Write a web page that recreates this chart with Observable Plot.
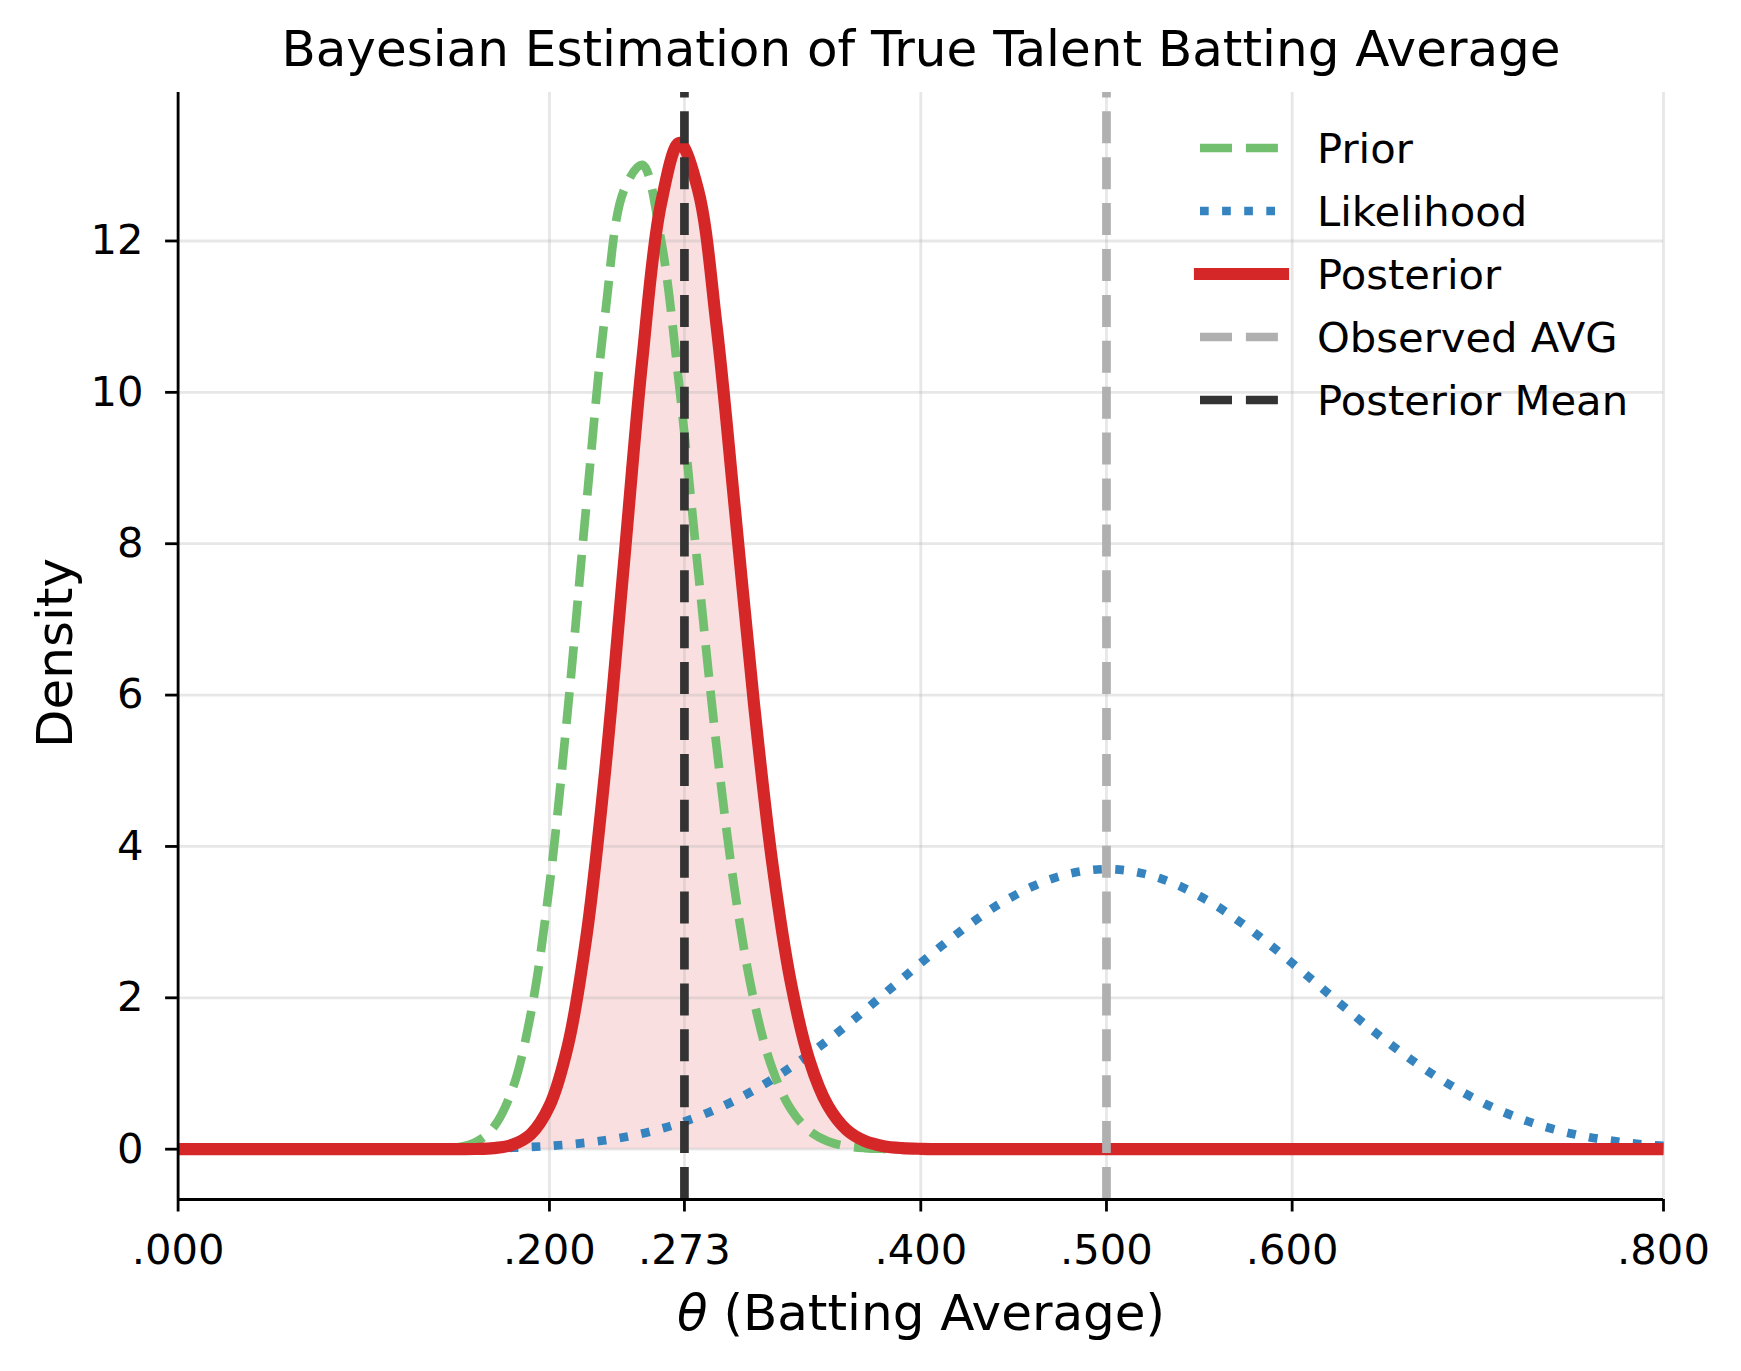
<!DOCTYPE html>
<html>
<head>
<meta charset="utf-8">
<script src="https://cdn.jsdelivr.net/npm/d3@7"></script>
<script src="https://cdn.jsdelivr.net/npm/@observablehq/plot@0.6"></script>
<style>
  html, body { margin: 0; padding: 0; background: white; }
  #wrap { position: relative; width: 1741px; height: 1371px; background: white; font-family: "DejaVu Sans", sans-serif; color: black; overflow: hidden; }
  #title { position: absolute; left: 921px; top: 24.4px; transform: translateX(-50%); font-size: 50px; line-height: 50px; white-space: nowrap; }
  #chart { position: absolute; left: 0; top: 92px; }
  .leg-text { position: absolute; font-size: 41.7px; line-height: 41.7px; white-space: nowrap; }
</style>
</head>
<body>
<div id="wrap">
  <div id="title">Bayesian Estimation of True Talent Batting Average</div>
  <div id="chart"></div>
  <div id="legend"></div>
</div>
<script>
// ---- Data ----
const theta = [
  0.00,0.01,0.02,0.03,0.04,0.05,0.06,0.07,0.08,0.09,
  0.10,0.11,0.12,0.13,0.14,0.15,0.16,0.17,0.18,0.19,
  0.20,0.21,0.22,0.23,0.24,0.25,0.26,0.27,0.28,0.29,
  0.30,0.31,0.32,0.33,0.34,0.35,0.36,0.37,0.38,0.39,
  0.40,0.41,0.42,0.43,0.44,0.45,0.46,0.47,0.48,0.49,
  0.50,0.51,0.52,0.53,0.54,0.55,0.56,0.57,0.58,0.59,
  0.60,0.61,0.62,0.63,0.64,0.65,0.66,0.67,0.68,0.69,
  0.70,0.71,0.72,0.73,0.74,0.75,0.76,0.77,0.78,0.79,
  0.80
];
const prior = [
  0,0,0,0,0,0,0,0,0,0,
  0,0,0,0.0006,0.0043,0.022,0.089,0.292,0.790,1.795,
  3.482,5.837,8.546,11.033,12.663,13.006,12.027,10.066,7.660,5.321,
  3.385,1.978,1.065,0.529,0.243,0.103,0.041,0.015,0.005,0.0015,
  0.0004,0,0,0,0,0,0,0,0,0,
  0,0,0,0,0,0,0,0,0,0,
  0,0,0,0,0,0,0,0,0,0,
  0,0,0,0,0,0,0,0,0,0,
  0
];
const likelihood = [
  0,0,0,0,0,0,0,0,0,0,
  0.0001,0.0003,0.0007,0.0013,0.0025,0.0044,0.0075,0.0121,0.0190,0.0289,
  0.0427,0.0613,0.0859,0.118,0.158,0.208,0.270,0.343,0.430,0.531,
  0.647,0.778,0.923,1.083,1.256,1.441,1.635,1.838,2.044,2.253,
  2.460,2.662,2.855,3.036,3.204,3.346,3.470,3.569,3.641,3.685,
  3.700,3.685,3.641,3.569,3.470,3.346,3.204,3.036,2.855,2.662,
  2.460,2.253,2.044,1.838,1.635,1.441,1.256,1.083,0.923,0.778,
  0.647,0.531,0.430,0.343,0.270,0.208,0.158,0.118,0.0859,0.0613,
  0.0427
];
const posterior = [
  0,0,0,0,0,0,0,0,0,0,
  0,0,0,0,0,0.0004,0.0026,0.0136,0.058,0.200,
  0.572,1.376,2.825,4.999,7.706,10.428,12.482,13.297,12.680,10.880,
  8.427,5.920,3.783,2.204,1.174,0.573,0.257,0.106,0.040,0.014,
  0.0045,0.0013,0.0004,0,0,0,0,0,0,0,
  0,0,0,0,0,0,0,0,0,0,
  0,0,0,0,0,0,0,0,0,0,
  0,0,0,0,0,0,0,0,0,0,
  0
];
const observedAvg = 0.500;
const posteriorMean = 0.2727;
const xTicks = [0, 0.2, posteriorMean, 0.4, 0.5, 0.6, 0.8];
const yTicks = [0, 2, 4, 6, 8, 10, 12];

const legendLabels = ["Prior", "Likelihood", "Posterior", "Observed AVG", "Posterior Mean"];
const legendColors = ["#72bf6f", "#3584bf", "#d62728", "#b0b0b0", "#333333"];
const legendDash = ["32,13.9", "8.7,13.4", null, "32,13.9", "32,13.9"];
const legendWidth = [8.7, 8.7, 12.15, 8.7, 8.7];

// ---- Build ----
const rows = theta.map((t, i) => ({theta: t, prior: prior[i], likelihood: likelihood[i], posterior: posterior[i]}));
const pMax = d3.max(posterior);
const yMin = -pMax * 0.05, yMax = pMax * 1.05;
const vlines = [
  {x: observedAvg, y1: yMin, y2: yMax, k: "obs"},
  {x: posteriorMean, y1: yMin, y2: yMax, k: "mean"}
];
const fmtX = d => d3.format(".3f")(d).replace(/^0/, "");
const fmtY = d3.format("d");

const chart = Plot.plot({
  width: 1741,
  height: 1279,
  marginLeft: 177.6,
  marginRight: 78,
  marginTop: 0,
  marginBottom: 172,
  style: {fontFamily: "DejaVu Sans", fontSize: "41.7px", background: "white", color: "black", overflow: "visible"},
  x: {domain: [0, 0.8]},
  y: {domain: [yMin, yMax]},
  marks: [
    Plot.areaY(rows, {x: "theta", y: "posterior", fill: "#d62728", fillOpacity: 0.15, curve: "catmull-rom"}),
    Plot.gridX(xTicks, {stroke: "#b0b0b0", strokeOpacity: 0.3, strokeWidth: 2.8}),
    Plot.gridY(yTicks, {stroke: "#b0b0b0", strokeOpacity: 0.3, strokeWidth: 2.8}),
    Plot.line(rows, {x: "theta", y: "prior", stroke: legendColors[0], strokeWidth: legendWidth[0], strokeDasharray: legendDash[0], strokeLinecap: "butt", curve: "catmull-rom"}),
    Plot.line(rows, {x: "theta", y: "likelihood", stroke: legendColors[1], strokeWidth: legendWidth[1], strokeDasharray: legendDash[1], strokeLinecap: "butt", curve: "catmull-rom"}),
    Plot.line(rows, {x: "theta", y: "posterior", stroke: legendColors[2], strokeWidth: legendWidth[2], strokeLinecap: "butt", strokeLinejoin: "round", curve: "catmull-rom"}),
    Plot.ruleX(vlines.filter(d => d.k === "obs"), {x: "x", y1: "y1", y2: "y2", stroke: legendColors[3], strokeWidth: legendWidth[3], strokeDasharray: legendDash[3]}),
    Plot.ruleX(vlines.filter(d => d.k === "mean"), {x: "x", y1: "y1", y2: "y2", stroke: legendColors[4], strokeWidth: legendWidth[4], strokeDasharray: legendDash[4]}),
    Plot.ruleX([0], {stroke: "black", strokeWidth: 2.8}),
    Plot.ruleY([yMin], {stroke: "black", strokeWidth: 2.8}),
    Plot.axisX(xTicks, {tickSize: 12.5, tickPadding: 22, strokeWidth: 2.8, tickFormat: fmtX, label: null}),
    Plot.axisY(yTicks, {tickSize: 12.5, tickPadding: 22, strokeWidth: 2.8, tickFormat: fmtY, label: null})
  ]
});
document.getElementById("chart").appendChild(chart);

// axis labels
const svg = d3.select(chart);
const xl = svg.append("text")
  .attr("x", 921).attr("y", 1238)
  .attr("text-anchor", "middle")
  .attr("font-size", "50px").attr("fill", "black");
xl.append("tspan").attr("font-style", "italic").text("θ");
xl.append("tspan").text(" (Batting Average)");
svg.append("text")
  .attr("transform", "translate(72,561) rotate(-90)")
  .attr("text-anchor", "middle")
  .attr("font-size", "50px").attr("fill", "black")
  .text("Density");

// legend
const legend = d3.select("#legend");
const rowY = [147.7, 210.8, 273.9, 337.0, 400.1];
legendLabels.forEach((lab, i) => {
  const y = rowY[i];
  const s = legend.append("svg")
    .style("position", "absolute").style("left", "1190px").style("top", (y - 12) + "px")
    .attr("width", 104).attr("height", 24);
  const ln = s.append("line")
    .attr("x1", 10).attr("x2", 93).attr("y1", 12).attr("y2", 12)
    .attr("stroke", legendColors[i]).attr("stroke-width", legendWidth[i])
    .attr("stroke-linecap", legendDash[i] ? "butt" : "square");
  if (legendDash[i]) ln.attr("stroke-dasharray", legendDash[i]);
  legend.append("div").attr("class", "leg-text")
    .style("left", "1317px").style("top", (y - 20.1) + "px")
    .text(lab);
});
</script>
</body>
</html>
